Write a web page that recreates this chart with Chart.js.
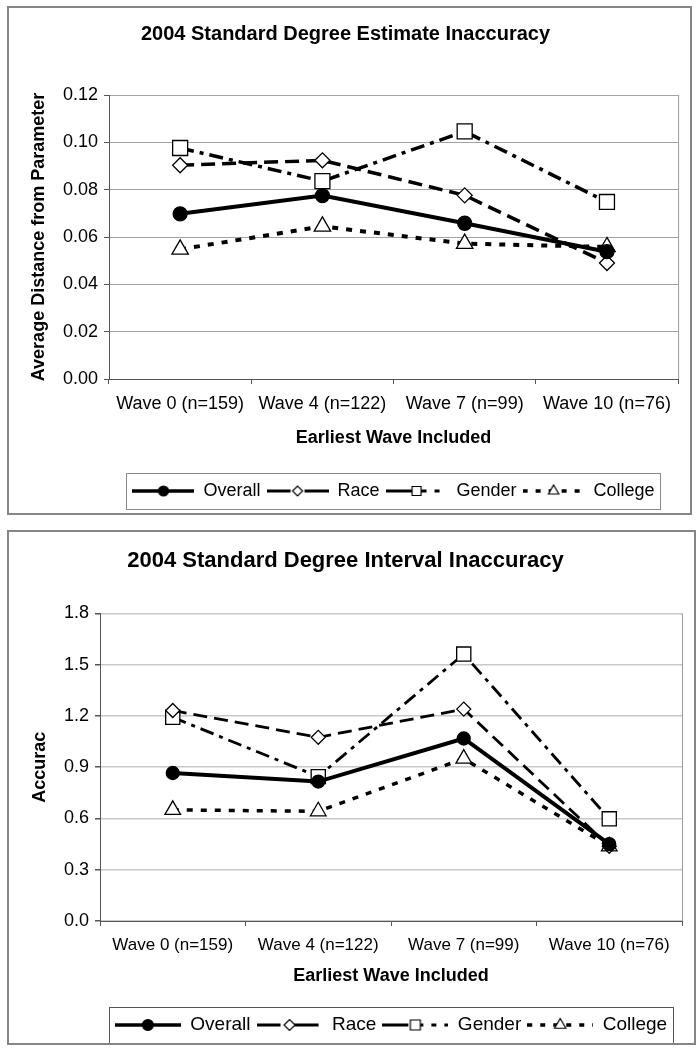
<!DOCTYPE html>
<html>
<head>
<meta charset="utf-8">
<script src="https://cdn.jsdelivr.net/npm/chart.js@4.4.1/dist/chart.umd.min.js"></script>
<style>
    body { margin: 0; background: #fff; }
    .marco { position: absolute; border: 2px solid #858585; }
    #marco1 { left: 7px; top: 6px; width: 681px; height: 505px; }
    #marco2 { left: 7px; top: 530px; width: 685px; height: 511px; }
    canvas { display: block; }
</style>
</head>
<body>
<div class="marco" id="marco1"><canvas id="grafico1" width="681" height="505"></canvas></div>
<div class="marco" id="marco2"><canvas id="grafico2" width="685" height="511"></canvas></div>

<script>
// Categorías del eje X
var categorias = ['Wave 0 (n=159)', 'Wave 4 (n=122)', 'Wave 7 (n=99)', 'Wave 10 (n=76)'];
var nombres = ['Overall', 'Race', 'Gender', 'College'];

// Primer gráfico: estimación
var estOverall = [0.0698, 0.0775, 0.0658, 0.0538];
var estRace = [0.0903, 0.0924, 0.0776, 0.0490];
var estGender = [0.0976, 0.0836, 0.1046, 0.0748];
var estCollege = [0.0548, 0.0645, 0.0572, 0.0558];
var ticksEst = [0, 0.02, 0.04, 0.06, 0.08, 0.10, 0.12];

// Segundo gráfico: intervalo
var intOverall = [0.866, 0.816, 1.068, 0.450];
var intRace = [1.232, 1.075, 1.240, 0.437];
var intGender = [1.192, 0.845, 1.562, 0.598];
var intCollege = [0.650, 0.642, 0.950, 0.437];
var ticksInt = [0, 0.3, 0.6, 0.9, 1.2, 1.5, 1.8];

var fuente = "'Liberation Sans', Arial, sans-serif";

// Estilo de cada serie (guiones en el trazo, guiones en la leyenda y marcador)
var estilos = [
    { guion: [], guionLeyenda: [], punto: 'circle', relleno: '#000' },
    { guion: [14, 7], guionLeyenda: [24, 14], punto: 'rectRot', relleno: '#fff' },
    { guion: [14, 6, 4, 6], guionLeyenda: [26, 10, 5, 8, 5, 8], punto: 'rect', relleno: '#fff' },
    { guion: [6, 8], guionLeyenda: [5, 8], punto: 'triangle', relleno: '#fff' }
];

// Dibuja un marcador simple en un canvas de leyenda
function dibujarMarcador(ctx, tipo, x, y, r) {
    ctx.beginPath();
    if (tipo === 'circle') {
        ctx.arc(x, y, r, 0, Math.PI * 2);
    } else if (tipo === 'rect') {
        ctx.rect(x - r, y - r, r * 2, r * 2);
    } else if (tipo === 'rectRot') {
        ctx.moveTo(x - r, y); ctx.lineTo(x, y - r); ctx.lineTo(x + r, y); ctx.lineTo(x, y + r);
        ctx.closePath();
    } else {
        ctx.moveTo(x, y - r);
        ctx.lineTo(x + r * 0.866, y + r * 0.5);
        ctx.lineTo(x - r * 0.866, y + r * 0.5);
        ctx.closePath();
    }
    ctx.fill();
    ctx.stroke();
}

// Crea el icono de la leyenda: línea con el marcador en medio
function crearIcono(estilo, ancho, grosor, radio) {
    var c = document.createElement('canvas');
    c.width = ancho;
    c.height = 18;
    var ctx = c.getContext('2d');
    ctx.strokeStyle = '#000';
    ctx.lineWidth = grosor;
    ctx.setLineDash(estilo.guionLeyenda);
    ctx.beginPath();
    ctx.moveTo(0, 9);
    ctx.lineTo(ancho, 9);
    ctx.stroke();
    ctx.setLineDash([]);
    ctx.lineWidth = 1.2;
    ctx.fillStyle = estilo.relleno;
    dibujarMarcador(ctx, estilo.punto, Math.round(ancho / 2), 9, radio);
    return c;
}

// Marco alrededor de la leyenda y borde derecho del área de trazado
var marcoLeyenda = {
    id: 'marcoLeyenda',
    beforeDatasetsDraw: function (chart) {
        var a = chart.chartArea;
        var ctx = chart.ctx;
        ctx.save();
        ctx.strokeStyle = '#9a9a9a';
        ctx.lineWidth = 1;
        ctx.beginPath();
        ctx.moveTo(a.right + 0.5, a.top);
        ctx.lineTo(a.right + 0.5, a.bottom);
        ctx.stroke();
        ctx.restore();
    },
    afterDraw: function (chart, args, opts) {
        var cajas = chart.legend.legendHitBoxes;
        if (!cajas || !cajas.length) return;
        var izq = Math.min.apply(null, cajas.map(function (c) { return c.left; })) - 6;
        var der = Math.max.apply(null, cajas.map(function (c) { return c.left + c.width; })) + 6;
        var arriba = cajas[0].top - opts.margen;
        var alto = cajas[0].height + opts.margen * 2;
        var ctx = chart.ctx;
        ctx.save();
        ctx.strokeStyle = opts.color;
        ctx.lineWidth = 1;
        ctx.strokeRect(Math.round(izq) + 0.5, Math.round(arriba) + 0.5, Math.round(der - izq), Math.round(alto));
        ctx.restore();
    }
};

// Construye un gráfico con sus medidas
function crearGrafico(id, cfg) {
    var datasets = nombres.map(function (nombre, i) {
        return {
            label: nombre,
            data: cfg.valores[i],
            borderColor: '#000',
            borderWidth: cfg.grosor[i],
            borderDash: estilos[i].guion,
            pointStyle: estilos[i].punto,
            pointRadius: cfg.radio[i],
            pointHoverRadius: cfg.radio[i],
            pointBackgroundColor: estilos[i].relleno,
            pointBorderColor: '#000',
            pointBorderWidth: 1.3,
            tension: 0,
            fill: false
        };
    });

    var iconos = nombres.map(function (n, i) {
        return crearIcono(estilos[i], cfg.anchoIcono, cfg.grosorIcono[i], cfg.radioIcono[i]);
    });

    return new Chart(document.getElementById(id), {
        type: 'line',
        data: { labels: categorias, datasets: datasets },
        plugins: [marcoLeyenda],
        options: {
            responsive: false,
            animation: false,
            events: [],
            layout: { padding: { left: 0, right: cfg.derecha, top: 0, bottom: cfg.abajo } },
            plugins: {
                title: {
                    display: true,
                    text: cfg.titulo,
                    color: '#000',
                    font: { family: fuente, size: cfg.tamTitulo, weight: 'bold' },
                    padding: cfg.padTitulo
                },
                legend: {
                    position: 'bottom',
                    fullSize: false,
                    labels: {
                        usePointStyle: true,
                        pointStyleWidth: cfg.anchoIcono,
                        padding: 6,
                        color: '#000',
                        font: { family: fuente, size: cfg.tamLeyenda },
                        generateLabels: function (chart) {
                            return chart.data.datasets.map(function (ds, i) {
                                return {
                                    text: ds.label,
                                    pointStyle: iconos[i],
                                    datasetIndex: i,
                                    hidden: false,
                                    fontColor: '#000',
                                    lineWidth: 0,
                                    strokeStyle: 'transparent',
                                    fillStyle: 'transparent'
                                };
                            });
                        }
                    }
                },
                marcoLeyenda: { margen: 9, color: cfg.colorMarco },
                tooltip: { enabled: false }
            },
            scales: {
                x: {
                    offset: true,
                    grid: { offset: true, drawOnChartArea: false, drawTicks: true, tickLength: 5, color: '#555' },
                    border: { color: '#555', width: 1 },
                    ticks: { color: '#000', padding: 9, font: { family: fuente, size: cfg.tamX }, maxRotation: 0 },
                    title: {
                        display: true,
                        text: 'Earliest Wave Included',
                        color: '#000',
                        font: { family: fuente, size: 18, weight: 'bold' },
                        padding: { top: 0, bottom: cfg.padTituloX }
                    },
                    afterFit: function (escala) { escala.height = cfg.altoX; }
                },
                y: {
                    min: 0,
                    max: cfg.ticks[cfg.ticks.length - 1],
                    afterBuildTicks: function (escala) {
                        escala.ticks = cfg.ticks.map(function (v) { return { value: v }; });
                    },
                    grid: { color: cfg.colorRejilla, lineWidth: cfg.anchoRejilla, tickLength: 5, tickColor: '#555' },
                    border: { color: '#555', width: 1 },
                    ticks: {
                        color: '#000',
                        padding: 6,
                        font: { family: fuente, size: 18 },
                        callback: function (v) { return Number(v).toFixed(cfg.decimales); }
                    },
                    title: {
                        display: true,
                        text: cfg.tituloY,
                        color: '#000',
                        font: { family: fuente, size: 18, weight: 'bold' },
                        padding: { top: cfg.padTituloY, bottom: 0 }
                    },
                    afterFit: function (escala) { escala.width = cfg.anchoY; }
                }
            }
        }
    });
}

document.addEventListener('DOMContentLoaded', function () {
    crearGrafico('grafico1', {
        titulo: '2004 Standard Degree Estimate Inaccuracy',
        tituloY: 'Average Distance from Parameter',
        valores: [estOverall, estRace, estGender, estCollege],
        ticks: ticksEst,
        decimales: 2,
        grosor: [4, 3.5, 3.5, 4],
        radio: [7, 7.5, 10.6, 9.5],
        anchoIcono: 62,
        grosorIcono: [3.5, 3, 3, 3.5],
        radioIcono: [5, 5, 4.5, 6],
        tamTitulo: 20,
        padTitulo: { top: 14, bottom: 49 },
        tamLeyenda: 18,
        tamX: 18,
        altoX: 97,
        padTituloX: 27,
        anchoY: 100,
        padTituloY: 19,
        derecha: 8,
        abajo: 3,
        colorRejilla: '#a3a3a3',
        anchoRejilla: 1,
        colorMarco: '#8a8a8a'
    });

    crearGrafico('grafico2', {
        titulo: '2004 Standard Degree Interval Inaccuracy',
        tituloY: 'Accurac',
        valores: [intOverall, intRace, intGender, intCollege],
        ticks: ticksInt,
        decimales: 1,
        grosor: [4, 2.8, 2.8, 3.5],
        radio: [6.5, 7, 10, 9],
        anchoIcono: 66,
        grosorIcono: [3.5, 3, 3, 3.5],
        radioIcono: [5.5, 5.5, 5, 6.5],
        tamTitulo: 22,
        padTitulo: { top: 16, bottom: 39 },
        tamLeyenda: 19,
        tamX: 17,
        altoX: 88.5,
        padTituloX: 23,
        anchoY: 91,
        padTituloY: 20,
        derecha: 12,
        abajo: -1.5,
        colorRejilla: '#c8c8c8',
        anchoRejilla: 1.5,
        colorMarco: '#555'
    });
});
</script>
</body>
</html>
